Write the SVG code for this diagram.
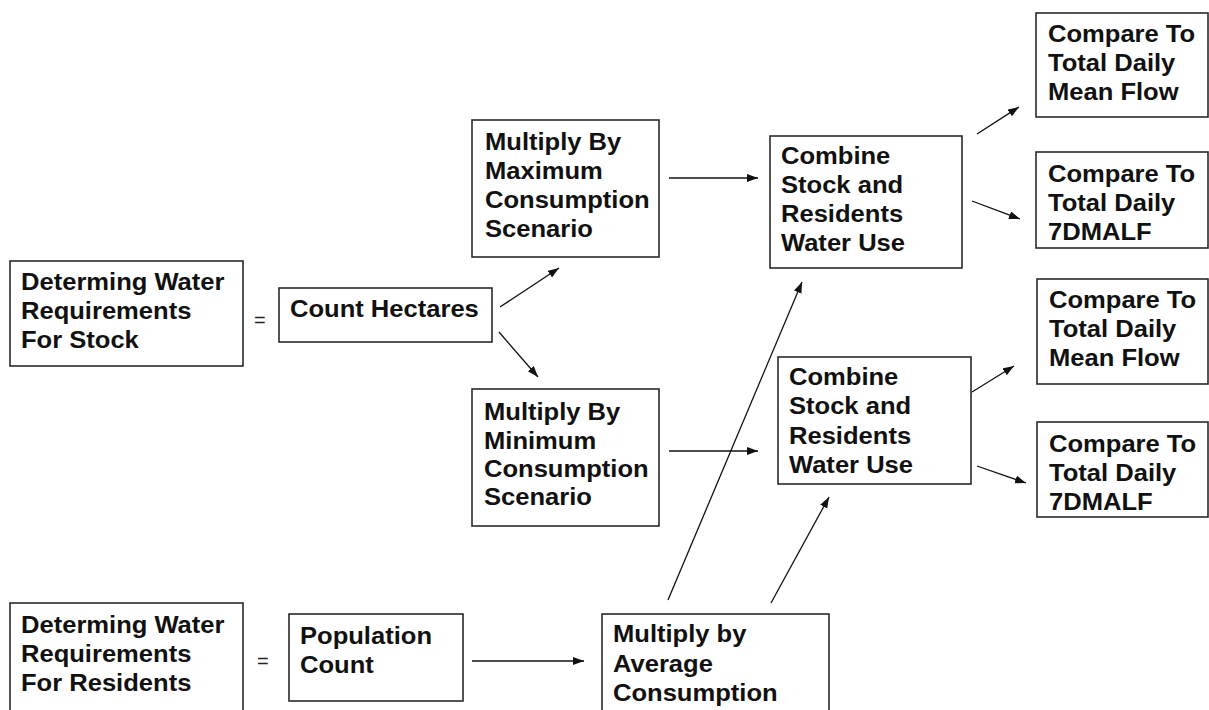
<svg xmlns="http://www.w3.org/2000/svg" width="1209" height="710" viewBox="0 0 1209 710">
<defs>
<marker id="ah" markerUnits="userSpaceOnUse" markerWidth="12" markerHeight="9" refX="11" refY="4" orient="auto">
<path d="M0,0 L11,4 L0,8 z" fill="#111"/>
</marker>
<style>
.box{fill:#fff;stroke:#2a2a2a;stroke-width:1.6}
.t{font-family:"Liberation Sans",Arial,Helvetica,sans-serif;font-weight:bold;font-size:24px;fill:#111}
.eq{font-family:"Liberation Sans",Arial,sans-serif;font-size:20px;fill:#222}
.c{stroke:#111;stroke-width:1.3;fill:none;marker-end:url(#ah)}
</style>
</defs>
<rect width="1209" height="710" fill="#fff"/>

<g id="connectors">
<line class="c" x1="500" y1="307" x2="559" y2="268"/>
<line class="c" x1="499" y1="332" x2="538" y2="377"/>
<line class="c" x1="669" y1="178" x2="758" y2="178"/>
<line class="c" x1="669" y1="451" x2="758" y2="451"/>
<line class="c" x1="668" y1="600" x2="802" y2="282"/>
<line class="c" x1="771" y1="603" x2="829" y2="497"/>
<line class="c" x1="977" y1="134" x2="1019" y2="107"/>
<line class="c" x1="972" y1="201" x2="1020" y2="219"/>
<line class="c" x1="972" y1="392" x2="1014" y2="366"/>
<line class="c" x1="977" y1="466" x2="1026" y2="483"/>
<line class="c" x1="472" y1="661" x2="584" y2="661"/>
</g>

<g id="stock">
<rect class="box" x="10" y="261" width="233" height="105"/>
<text class="t" transform="translate(21 0) scale(1.065 1)"><tspan x="0" y="290">Determing Water</tspan><tspan x="0" y="319">Requirements</tspan><tspan x="0" y="348">For Stock</tspan></text>
</g>
<text id="eq1" class="eq" x="254" y="327">=</text>

<g id="count-hectares">
<rect class="box" x="279" y="288" width="213" height="54"/>
<text class="t" transform="translate(290 0) scale(1.065 1)"><tspan x="0" y="317">Count Hectares</tspan></text>
</g>

<g id="max">
<rect class="box" x="472" y="120" width="187" height="137"/>
<text class="t" transform="translate(485 0) scale(1.065 1)"><tspan x="0" y="150">Multiply By</tspan><tspan x="0" y="179">Maximum</tspan><tspan x="0" y="208">Consumption</tspan><tspan x="0" y="237">Scenario</tspan></text>
</g>

<g id="min">
<rect class="box" x="472" y="389" width="187" height="137"/>
<text class="t" transform="translate(484 0) scale(1.065 1)"><tspan x="0" y="420">Multiply By</tspan><tspan x="0" y="449">Minimum</tspan><tspan x="0" y="477">Consumption</tspan><tspan x="0" y="505">Scenario</tspan></text>
</g>

<g id="combine1">
<rect class="box" x="770" y="136" width="192" height="132"/>
<text class="t" transform="translate(781 0) scale(1.065 1)"><tspan x="0" y="164">Combine</tspan><tspan x="0" y="193">Stock and</tspan><tspan x="0" y="222">Residents</tspan><tspan x="0" y="251">Water Use</tspan></text>
</g>

<g id="combine2">
<rect class="box" x="778" y="357" width="193" height="127"/>
<text class="t" transform="translate(789 0) scale(1.065 1)"><tspan x="0" y="385">Combine</tspan><tspan x="0" y="414">Stock and</tspan><tspan x="0" y="444">Residents</tspan><tspan x="0" y="473">Water Use</tspan></text>
</g>

<g id="compare1">
<rect class="box" x="1036" y="13" width="172" height="104"/>
<text class="t" transform="translate(1048 0) scale(1.065 1)"><tspan x="0" y="42">Compare To</tspan><tspan x="0" y="71">Total Daily</tspan><tspan x="0" y="100">Mean Flow</tspan></text>
</g>

<g id="compare2">
<rect class="box" x="1036" y="152" width="172" height="96"/>
<text class="t" transform="translate(1048 0) scale(1.065 1)"><tspan x="0" y="182">Compare To</tspan><tspan x="0" y="211">Total Daily</tspan><tspan x="0" y="240">7DMALF</tspan></text>
</g>

<g id="compare3">
<rect class="box" x="1037" y="279" width="171" height="105"/>
<text class="t" transform="translate(1049 0) scale(1.065 1)"><tspan x="0" y="308">Compare To</tspan><tspan x="0" y="337">Total Daily</tspan><tspan x="0" y="366">Mean Flow</tspan></text>
</g>

<g id="compare4">
<rect class="box" x="1037" y="422" width="171" height="95"/>
<text class="t" transform="translate(1049 0) scale(1.065 1)"><tspan x="0" y="452">Compare To</tspan><tspan x="0" y="481">Total Daily</tspan><tspan x="0" y="510">7DMALF</tspan></text>
</g>

<g id="residents">
<rect class="box" x="10" y="603" width="233" height="120"/>
<text class="t" transform="translate(21 0) scale(1.065 1)"><tspan x="0" y="633">Determing Water</tspan><tspan x="0" y="662">Requirements</tspan><tspan x="0" y="691">For Residents</tspan></text>
</g>
<text id="eq2" class="eq" x="257" y="668">=</text>

<g id="population">
<rect class="box" x="289" y="614" width="174" height="87"/>
<text class="t" transform="translate(300 0) scale(1.065 1)"><tspan x="0" y="644">Population</tspan><tspan x="0" y="673">Count</tspan></text>
</g>

<g id="average">
<rect class="box" x="602" y="614" width="227" height="110"/>
<text class="t" transform="translate(613 0) scale(1.065 1)"><tspan x="0" y="642">Multiply by</tspan><tspan x="0" y="672">Average</tspan><tspan x="0" y="701">Consumption</tspan></text>
</g>
</svg>
